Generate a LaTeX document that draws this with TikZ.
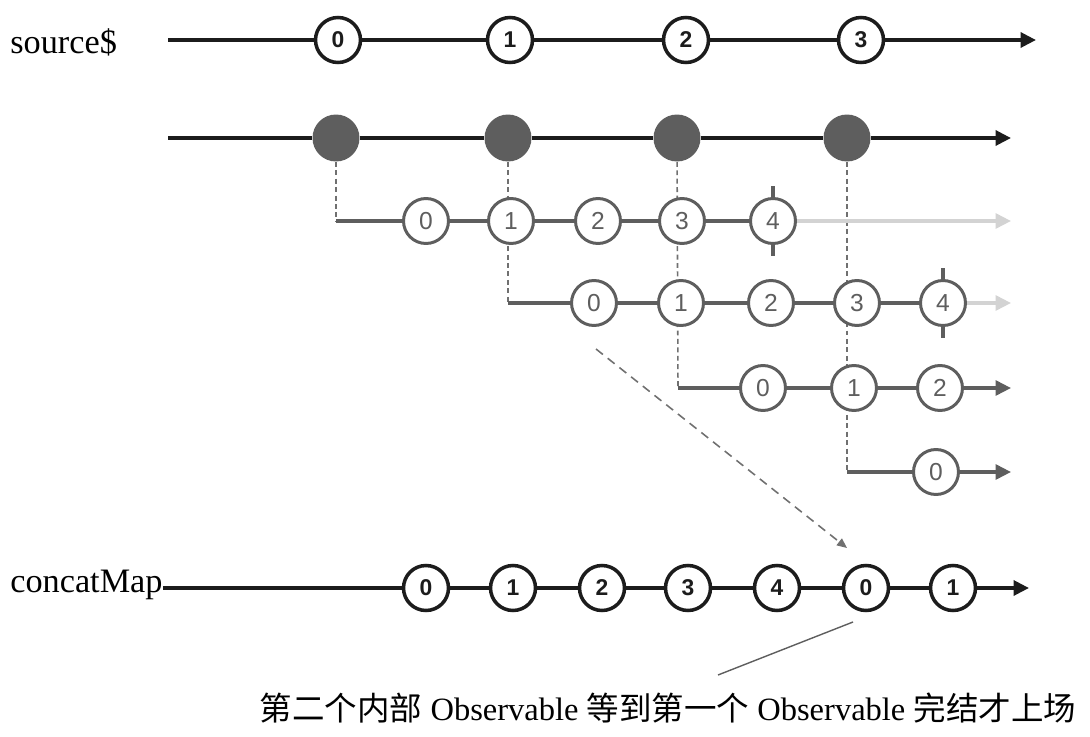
\documentclass[tikz,border=0pt]{standalone}
\usepackage{fontspec}
\setmainfont{Liberation Serif}
\newfontfamily\cjk{Noto Sans CJK SC}
\newfontfamily\numfont{Liberation Sans}
\usetikzlibrary{arrows.meta, positioning}

\definecolor{ink}{HTML}{1C1C1C}
\definecolor{grayink}{HTML}{5E5E5E}
\definecolor{fadeink}{HTML}{D3D3D3}
\definecolor{dashink}{HTML}{707070}

\tikzset{
  marble/.style={circle, draw=ink, line width=2pt, fill=white, minimum size=0.9cm, inner sep=0pt,
    text=ink, font=\numfont\bfseries\fontsize{13}{13}\selectfont},
  inner marble/.style={circle, draw=grayink, line width=1.7pt, fill=white, minimum size=0.9cm, inner sep=0pt,
    text=grayink, font=\numfont\fontsize{14}{14}\selectfont},
  blob/.style={circle, fill=grayink, minimum size=0.94cm, inner sep=0pt},
  timeline/.style={draw=ink, line width=2pt, -{Triangle[length=0.31cm, width=0.3cm]}},
  inner line/.style={draw=grayink, line width=1.8pt, -{Triangle[length=0.31cm, width=0.3cm]}},
  fade line/.style={draw=fadeink, line width=1.8pt, -{Triangle[length=0.31cm, width=0.3cm]}},
  drop/.style={draw=dashink, line width=0.9pt, dash pattern=on 2.8pt off 2pt},
  hint/.style={draw=dashink, line width=0.9pt, dash pattern=on 5pt off 3.5pt, -{Triangle[length=0.2cm, width=0.17cm]}},
  stop tick/.style={draw=grayink, line width=1.8pt},
  label/.style={anchor=base west, inner sep=0pt, font=\fontsize{19.5}{20}\selectfont}
}

\begin{document}
\begin{tikzpicture}[x=0.02cm, y=-0.02cm]
  \useasboundingbox (0,0) rectangle (1090,737);

  % source$ と外側の流れ
  \node[label] (src) at (10,53) {source\$};
  \coordinate (s-start) at (168,40);
  \coordinate (s-end) at (1036,40);
  \foreach \x [count=\i from 0] in {338,510,686,861}
    \node[marble] (s\i) at (\x,40) {\i};
  \draw[timeline] (s-start) -- (s0) -- (s1) -- (s2) -- (s3) -- (s-end);

  \coordinate (h-start) at (168,138);
  \coordinate (h-end) at (1011,138);
  \foreach \x [count=\i from 0] in {336,508,677,847}
    \node[blob] (h\i) at (\x,138) {};
  \draw[timeline] (h-start) -- (h0) -- (h1) -- (h2) -- (h3) -- (h-end);

  % 内部の Observable
  \coordinate (a-start) at (336,221);
  \coordinate (b-start) at (508,303);
  \coordinate (c-start) at (678,388);
  \coordinate (d-start) at (847,472);
  \coordinate (a-end) at (1011,221);
  \coordinate (b-end) at (1011,303);
  \coordinate (c-end) at (1011,388);
  \coordinate (d-end) at (1011,472);

  \draw[drop] (h0) -- (a-start);
  \draw[drop] (h1) -- (b-start);
  \draw[drop] (h2) -- (c-start);
  \draw[drop] (h3) -- (d-start);

  \foreach \x [count=\i from 0] in {426,511,598,682,773}
    \node[inner marble] (a\i) at (\x,221) {\i};
  \foreach \x [count=\i from 0] in {594,681,771,857,943}
    \node[inner marble] (b\i) at (\x,303) {\i};
  \foreach \x [count=\i from 0] in {763,854,940}
    \node[inner marble] (c\i) at (\x,388) {\i};
  \node[inner marble] (d0) at (936,472) {0};

  \draw[inner line, -] (a-start) -- (a0) -- (a1) -- (a2) -- (a3) -- (a4);
  \draw[fade line] (a4) -- (a-end);
  \draw[stop tick] (a4.north) -- ++(0,-11) (a4.south) -- ++(0,11);
  \draw[inner line, -] (b-start) -- (b0) -- (b1) -- (b2) -- (b3) -- (b4);
  \draw[fade line] (b4) -- (b-end);
  \draw[stop tick] (b4.north) -- ++(0,-11) (b4.south) -- ++(0,11);
  \draw[inner line] (c-start) -- (c0) -- (c1) -- (c2) -- (c-end);
  \draw[inner line] (d-start) -- (d0) -- (d-end);

  % concatMap の結果
  \node[label] (cm) at (10,592) {concatMap};
  \coordinate (m-end) at (1029,588);
  \foreach \x/\n [count=\i from 0] in {426/0,513/1,602/2,688/3,777/4,866/0,953/1}
    \node[marble] (m\i) at (\x,588) {\n};
  \draw[timeline] (cm.east |- m0) -- (m0) -- (m1) -- (m2) -- (m3) -- (m4) -- (m5) -- (m6) -- (m-end);

  \coordinate (hint-from) at (596,349);
  \coordinate (hint-to) at (847,548);
  \draw[hint] (hint-from) -- (hint-to);

  \node[anchor=base, inner sep=0pt, font=\fontsize{18.5}{19}\selectfont] (note) at (668,720)
    {{\cjk 第二个内部} Observable {\cjk 等到第一个} Observable {\cjk 完结才上场}};
  \coordinate (note-tip) at (853,622);
  \coordinate (note-foot) at (718,675);
  \draw[draw=grayink, line width=0.8pt] (note-tip) -- (note-foot);
\end{tikzpicture}
\end{document}
